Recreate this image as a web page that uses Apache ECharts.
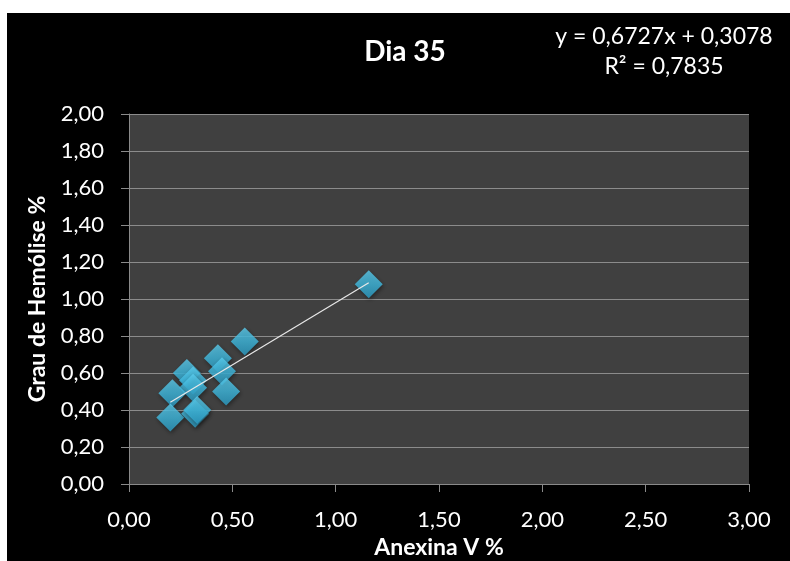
<!DOCTYPE html>
<html><head><meta charset="utf-8">
<script src="https://cdn.jsdelivr.net/npm/echarts@6/dist/echarts.min.js"></script>
<style>html,body{margin:0;padding:0;background:#fff}#c{width:790px;height:561px}</style>
</head><body><div id="c"></div>
<script>
const anexina = [1.16, 0.56, 0.43, 0.45, 0.47, 0.28, 0.31, 0.31, 0.21, 0.20, 0.32, 0.33];
const hemolise = [1.08, 0.77, 0.68, 0.61, 0.50, 0.60, 0.56, 0.52, 0.49, 0.36, 0.38, 0.40];
const slope = 0.6727, intercept = 0.3078;
const xTicks = [0, 0.5, 1, 1.5, 2, 2.5, 3];
const yTicks = [0, 0.2, 0.4, 0.6, 0.8, 1, 1.2, 1.4, 1.6, 1.8, 2];

const pts = anexina.map((x, i) => [x, hemolise[i]]);
const xmin = Math.min(...anexina), xmax = Math.max(...anexina);
const trend = [[xmin, slope * xmin + intercept], [xmax, slope * xmax + intercept]];
const fmt = v => v.toFixed(2).replace('.', ',');
const font = 'Lato, "Open Sans", sans-serif';

const chart = echarts.init(document.getElementById('c'));
chart.setOption({
  backgroundColor: '#ffffff',
  animation: false,
  graphic: [
    { type: 'rect', z: -10, silent: true, shape: { x: 7, y: 13, width: 790, height: 560 }, style: { fill: '#000' } },
    { type: 'text', x: 405, y: 52, style: { text: 'Dia 35', fill: '#fff', font: 'bold 28px ' + font, textAlign: 'center', textVerticalAlign: 'middle' } },
    { type: 'text', x: 664, y: 37, style: { text: 'y = 0,6727x + 0,3078', fill: '#fff', font: '23px ' + font, textAlign: 'center', textVerticalAlign: 'middle' } },
    { type: 'text', x: 664, y: 67, style: { text: 'R² = 0,7835', fill: '#fff', font: '23px ' + font, textAlign: 'center', textVerticalAlign: 'middle' } }
  ],
  grid: { left: 129, right: 41, top: 114, bottom: 77, show: true, backgroundColor: '#404040', borderWidth: 0, containLabel: false, outerBoundsMode: 'none' },
  xAxis: {
    type: 'value', min: 0, max: 3, interval: 0.5,
    name: 'Anexina V %', nameLocation: 'middle', nameGap: 52,
    nameTextStyle: { color: '#fff', fontWeight: 'bold', fontSize: 23, fontFamily: font },
    axisLine: { show: true, lineStyle: { color: '#8a8a8a', width: 1 } },
    axisTick: { show: true, length: 8, lineStyle: { color: '#8a8a8a' } },
    axisLabel: { color: '#fff', fontSize: 22, fontFamily: font, margin: 25, formatter: v => fmt(v) },
    splitLine: { show: false }
  },
  yAxis: {
    type: 'value', min: 0, max: 2, interval: 0.2,
    name: 'Grau de Hemólise %', nameLocation: 'middle', nameGap: 80, nameRotate: 90,
    nameTextStyle: { color: '#fff', fontWeight: 'bold', fontSize: 23, fontFamily: font },
    axisLine: { show: true, lineStyle: { color: '#8a8a8a', width: 1 } },
    axisTick: { show: true, length: 8, lineStyle: { color: '#8a8a8a' } },
    axisLabel: { color: '#fff', fontSize: 22, fontFamily: font, margin: 25, formatter: v => fmt(v) },
    splitLine: { show: true, lineStyle: { color: '#8c8c8c', width: 1 } }
  },
  series: [
    {
      type: 'scatter', data: pts, symbol: 'diamond', symbolSize: [28, 28], z: 3,
      itemStyle: {
        color: new echarts.graphic.LinearGradient(0, 0, 0, 1, [
          { offset: 0, color: '#5ccdee' }, { offset: 0.5, color: '#41bce2' }, { offset: 1, color: '#2c9ec6' }
        ]),
        shadowColor: 'rgba(0,0,0,0.5)', shadowBlur: 4, shadowOffsetX: 1, shadowOffsetY: 2
      }
    },
    {
      type: 'line', data: trend, symbol: 'none', z: 4,
      lineStyle: { color: '#e8e8e8', width: 1.2 }
    }
  ]
});
</script></body></html>
